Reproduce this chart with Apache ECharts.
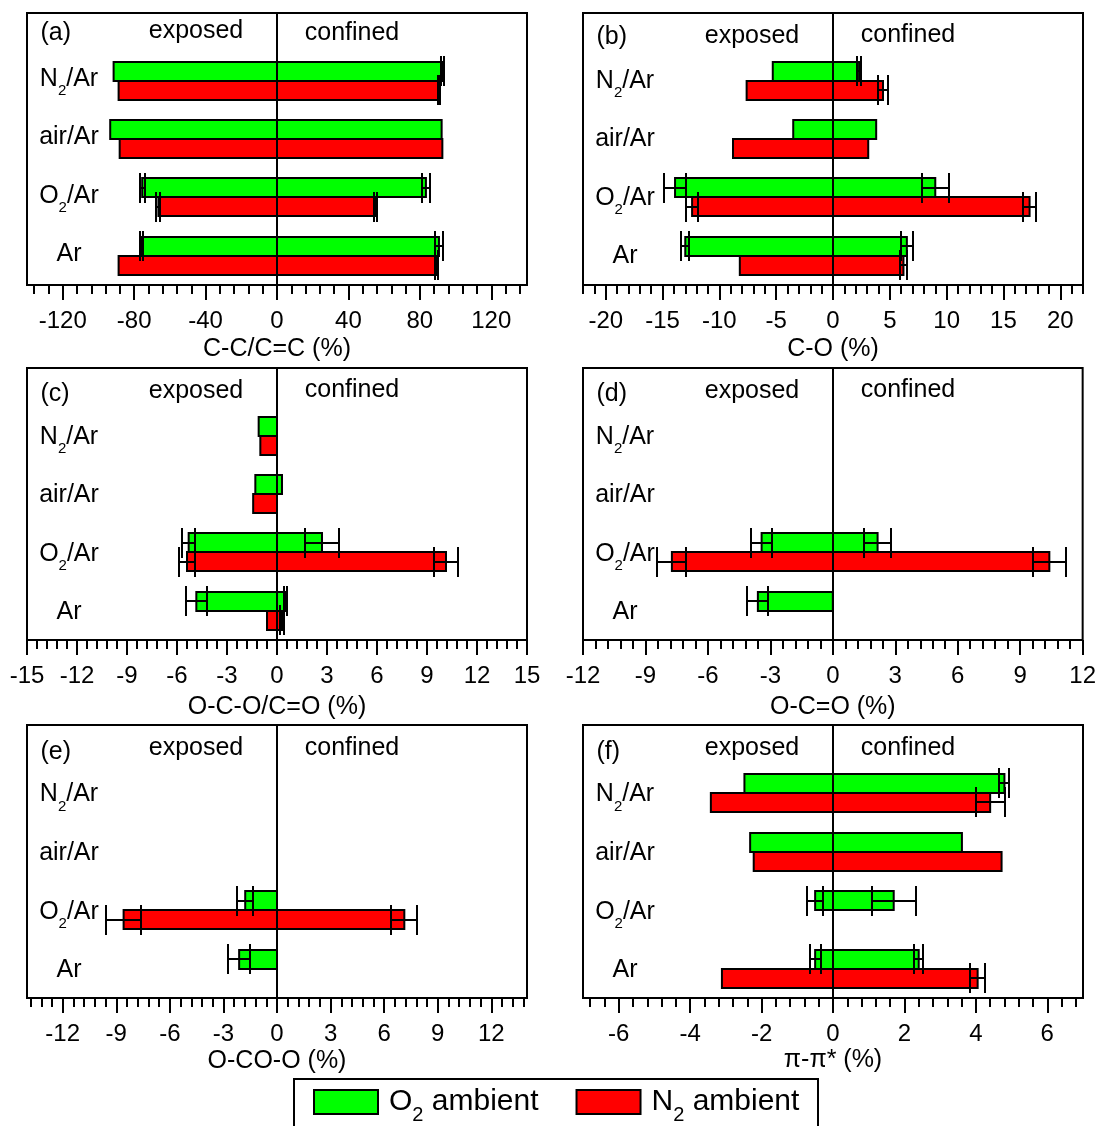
<!DOCTYPE html>
<html>
<head>
<meta charset="utf-8">
<script src="https://cdn.jsdelivr.net/npm/echarts@6/dist/echarts.min.js"></script>
<style>
  html, body { margin: 0; padding: 0; background: #fff; }
  #chart { width: 1099px; height: 1126px; }
</style>
</head>
<body>
<div id="chart"></div>
<script>
// Plasma treatment groups, listed top to bottom as drawn
const categories = ['N2/Ar', 'air/Ar', 'O2/Ar', 'Ar'];
const ambients = ['O2 ambient', 'N2 ambient'];
const panelTags = ['(a)', '(b)', '(c)', '(d)', '(e)', '(f)'];
const axisNames = ['C-C/C=C (%)', 'C-O (%)', 'O-C-O/C=O (%)', 'O-C=O (%)', 'O-CO-O (%)', 'π-π* (%)'];

// Change of each component: [exposed, exposed error, confined, confined error]; null = not present
const ccO2 = [[-91.5, 0, 92.6, 0.9], [-93.4, 0, 92.2, 0], [-75.5, 1.4, 83.4, 2.0], [-75.9, 0.9, 90.7, 2.5]];
const ccN2 = [[-88.7, 0, 90.9, 0.5], [-88.1, 0, 92.6, 0], [-66.4, 1.1, 55.1, 0.9], [-88.7, 0, 89.4, 0.9]];
const coO2 = [[-5.3, 0, 2.3, 0.2], [-3.5, 0, 3.8, 0], [-13.9, 1.0, 9.0, 1.2], [-13.0, 0.35, 6.5, 0.5]];
const coN2 = [[-7.6, 0, 4.4, 0.4], [-8.8, 0, 3.1, 0], [-12.4, 0.5, 17.3, 0.6], [-8.2, 0, 6.2, 0.27]];
const ococO2 = [[-1.1, 0, 0, 0], [-1.3, 0, 0.3, 0], [-5.3, 0.4, 2.7, 1.0], [-4.84, 0.65, 0.5, 0.1]];
const ococN2 = [[-1.0, 0, 0, 0], [-1.43, 0, 0, 0], [-5.4, 0.5, 10.14, 0.73], [-0.6, 0, 0.3, 0.12]];
const ocoO2 = [null, null, [-3.42, 0.52, 2.15, 0.63], [-3.6, 0.5, 0, 0]];
const ocoN2 = [null, null, [-7.73, 0.7, 10.4, 0.8], null];
const ocooO2 = [null, null, [-1.78, 0.44, 0, 0], [-2.12, 0.6, 0, 0]];
const ocooN2 = [null, null, [-8.59, 0.99, 7.13, 0.72], null];
const pipiO2 = [[-2.48, 0, 4.8, 0.14], [-2.32, 0, 3.61, 0], [-0.5, 0.22, 1.7, 0.62], [-0.5, 0.15, 2.4, 0.13]];
const pipiN2 = [[-3.42, 0, 4.4, 0.41], [-2.22, 0, 4.72, 0], null, [-3.11, 0, 4.05, 0.21]];

// Labelled tick values of each x axis
const ccTicks = [-120, -80, -40, 0, 40, 80, 120];
const coTicks = [-20, -15, -10, -5, 0, 5, 10, 15, 20];
const ococTicks = [-15, -12, -9, -6, -3, 0, 3, 6, 9, 12, 15];
const ocoTicks = [-12, -9, -6, -3, 0, 3, 6, 9, 12];
const ocooTicks = [-12, -9, -6, -3, 0, 3, 6, 9, 12];
const pipiTicks = [-6, -4, -2, 0, 2, 4, 6];

const FONT = 'Arial, "Liberation Sans", sans-serif';
const COLORS = ['#00ff00', '#ff0000'];
const BAR_H = 19;
const CAP_H = 30;

const panels = [
  { o2: ccO2, n2: ccN2, ticks: ccTicks, min: -140, max: 140, minor: 8, left: 27, top: 13, height: 272, nameGap: 52, tagY: 20, expY: 18.5, confY: 20, labelDy: 0 },
  { o2: coO2, n2: coN2, ticks: coTicks, min: -22, max: 22, minor: 1, left: 583, top: 13, height: 272, nameGap: 52, tagY: 24, expY: 23.6, confY: 22, labelDy: 2 },
  { o2: ococO2, n2: ococN2, ticks: ococTicks, min: -15, max: 15, minor: 0.6, left: 27, top: 368, height: 272, nameGap: 55, tagY: 26, expY: 23.6, confY: 22, labelDy: 3 },
  { o2: ocoO2, n2: ocoN2, ticks: ocoTicks, min: -12, max: 12, minor: 0.6, left: 583, top: 368, height: 272, nameGap: 55, tagY: 26.5, expY: 23.6, confY: 22, labelDy: 3 },
  { o2: ocooO2, n2: ocooN2, ticks: ocooTicks, min: -14, max: 14, minor: 0.6, left: 27, top: 725, height: 273, nameGap: 51, tagY: 26.7, expY: 23.3, confY: 23.3, labelDy: 3 },
  { o2: pipiO2, n2: pipiN2, ticks: pipiTicks, min: -7, max: 7, minor: 0.4, left: 583, top: 725, height: 273, nameGap: 50, tagY: 27, expY: 23.3, confY: 23.3, labelDy: 3 }
];

function minorTicks(min, max, step) {
  const out = [];
  const k0 = Math.ceil(min / step - 1e-9), k1 = Math.floor(max / step + 1e-9);
  for (let k = k0; k <= k1; k++) out.push(+(k * step).toFixed(6));
  return out;
}

function subscripted(text) {
  return text.replace(/([A-Za-z])(\d)/, '$1{s|$2}');
}

// Floating bar from the exposed value to the confined value
function renderBar(upper, color) {
  return function (params, api) {
    const pos = api.value(0);
    const p0 = api.coord([api.value(1), pos]);
    const p1 = api.coord([api.value(3), pos]);
    const yc = Math.round(p0[1]);
    return {
      type: 'rect',
      shape: { x: p0[0], y: upper ? yc - BAR_H : yc, width: p1[0] - p0[0], height: BAR_H },
      style: { fill: color, stroke: '#000', lineWidth: 2 }
    };
  };
}

// Error bars at both ends of a bar
function renderErr(upper) {
  return function (params, api) {
    const pos = api.value(0);
    const yc = Math.round(api.coord([0, pos])[1] + (upper ? -BAR_H / 2 : BAR_H / 2));
    const kids = [];
    const st = { stroke: '#000', lineWidth: 2 };
    [[1, 2], [3, 4]].forEach(function (pair) {
      const v = api.value(pair[0]), e = api.value(pair[1]);
      if (!(e > 0)) return;
      const xa = Math.round(api.coord([v - e, pos])[0]);
      const xb = Math.round(api.coord([v + e, pos])[0]);
      kids.push({ type: 'line', shape: { x1: xa, y1: yc, x2: xb, y2: yc }, style: st });
      kids.push({ type: 'line', shape: { x1: xa, y1: yc - CAP_H / 2, x2: xa, y2: yc + CAP_H / 2 }, style: st });
      kids.push({ type: 'line', shape: { x1: xb, y1: yc - CAP_H / 2, x2: xb, y2: yc + CAP_H / 2 }, style: st });
    });
    return { type: 'group', children: kids };
  };
}

// Group names written inside the plot area
function catLabelRenderer(dy) {
  return function (params, api) {
    const pos = api.value(0);
    const y = api.coord([0, pos])[1] - 1.5 + dy;
    const x = params.coordSys.x + 42;
    return {
      type: 'text',
      style: {
        text: subscripted(categories[api.value(1)]),
        x: x, y: y,
        fill: '#000', fontSize: 25, fontFamily: FONT,
        align: 'center', textAlign: 'center', verticalAlign: 'middle', textVerticalAlign: 'middle',
        rich: { s: { fontSize: 15, fontFamily: FONT, fill: '#000', padding: [24, 0, 0, 0] } }
      }
    };
  };
}

const grids = [], xAxes = [], yAxes = [], series = [], graphics = [];
const tickStyle = { color: '#000', width: 2 };

panels.forEach(function (p, i) {
  grids.push({ left: p.left, top: p.top, width: 500, height: p.height, show: true,
    borderColor: '#000', borderWidth: 2, backgroundColor: 'transparent' });

  xAxes.push({
    type: 'value', gridIndex: i, position: 'bottom', min: p.min, max: p.max,
    name: axisNames[i], nameLocation: 'middle', nameGap: p.nameGap,
    nameTextStyle: { fontSize: 25, fontFamily: FONT, color: '#000' },
    axisLine: { show: false }, splitLine: { show: false },
    axisTick: { show: true, inside: false, length: 15, customValues: p.ticks, lineStyle: tickStyle },
    axisLabel: { customValues: p.ticks, margin: 24, fontSize: 24, fontFamily: FONT, color: '#000' }
  });
  xAxes.push({
    type: 'value', gridIndex: i, position: 'bottom', min: p.min, max: p.max,
    axisLine: { show: false }, splitLine: { show: false }, axisLabel: { show: false },
    axisTick: { show: true, inside: false, length: 9, customValues: minorTicks(p.min, p.max, p.minor), lineStyle: tickStyle }
  });
  yAxes.push({
    type: 'value', gridIndex: i, min: 0.5, max: 5.16, z: 10,
    axisLine: { show: true, onZero: true, onZeroAxisIndex: 2 * i, lineStyle: { color: '#000', width: 2 } },
    axisTick: { show: false }, axisLabel: { show: false }, splitLine: { show: false }
  });

  [p.o2, p.n2].forEach(function (rows, j) {
    const data = [];
    rows.forEach(function (r, k) { if (r) data.push([categories.length - k].concat(r)); });
    series.push({
      type: 'custom', name: ambients[j], xAxisIndex: 2 * i, yAxisIndex: i, z: 2, silent: true,
      encode: { x: [1, 3], y: 0 }, renderItem: renderBar(j === 0, COLORS[j]), data: data,
      itemStyle: { color: COLORS[j] }
    });
    series.push({
      type: 'custom', name: ambients[j], xAxisIndex: 2 * i, yAxisIndex: i, z: 3, silent: true,
      encode: { x: [1, 3], y: 0 }, renderItem: renderErr(j === 0), data: data,
      itemStyle: { color: COLORS[j] }
    });
  });

  series.push({
    type: 'custom', name: 'groups', xAxisIndex: 2 * i, yAxisIndex: i, z: 6, silent: true,
    encode: { y: 0 }, renderItem: catLabelRenderer(p.labelDy),
    data: categories.map(function (c, k) { return [categories.length - k, k]; })
  });

  const head = { fill: '#000', fontSize: 25, fontFamily: FONT, verticalAlign: 'middle', textVerticalAlign: 'middle' };
  graphics.push({ type: 'text', silent: true, style: Object.assign({ text: panelTags[i], x: p.left + 13.5, y: p.top + p.tagY, align: 'left', textAlign: 'left' }, head) });
  graphics.push({ type: 'text', silent: true, style: Object.assign({ text: 'exposed', x: p.left + 169, y: p.top + p.expY, align: 'center', textAlign: 'center' }, head) });
  graphics.push({ type: 'text', silent: true, style: Object.assign({ text: 'confined', x: p.left + 325, y: p.top + p.confY, align: 'center', textAlign: 'center' }, head) });
});

// Frame around the legend
graphics.push({ type: 'rect', silent: true, shape: { x: 294, y: 1079, width: 524, height: 80 },
  style: { fill: 'none', stroke: '#000', lineWidth: 2 } });

const chart = echarts.init(document.getElementById('chart'), null, { renderer: 'canvas' });
chart.setOption({
  backgroundColor: '#fff',
  animation: false,
  textStyle: { fontFamily: FONT },
  grid: grids,
  xAxis: xAxes,
  yAxis: yAxes,
  legend: {
    left: 313, top: 1087, padding: 0, itemGap: 37, itemWidth: 64, itemHeight: 24, icon: 'rect',
    selectedMode: false,
    data: ambients.map(function (n, j) {
      return { name: n, itemStyle: { color: COLORS[j], borderColor: '#000', borderWidth: 2 } };
    }),
    formatter: function (n) { return subscripted(n); },
    textStyle: {
      fontSize: 30, fontFamily: FONT, color: '#000', padding: [0, 0, 0, 6],
      rich: { s: { fontSize: 20, fontFamily: FONT, color: '#000', padding: [26, 0, 0, 0] } }
    }
  },
  graphic: { elements: graphics },
  series: series
});
</script>
</body>
</html>
